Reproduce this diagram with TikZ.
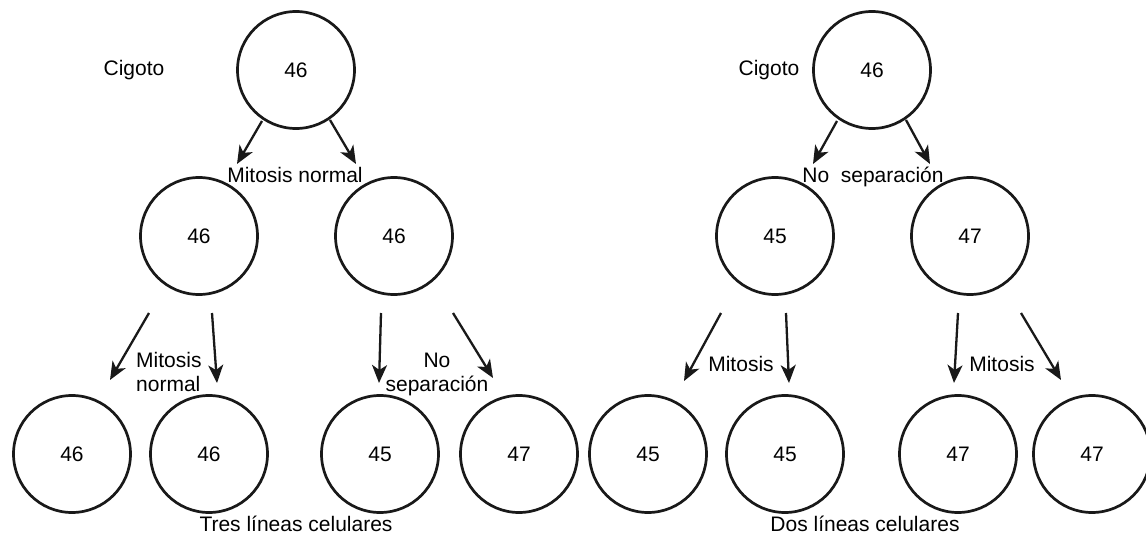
\documentclass[tikz,border=0pt]{standalone}
\usepackage{fontspec}
\setmainfont{Liberation Sans}
\usetikzlibrary{arrows.meta}
\begin{document}
\begin{tikzpicture}[x=1pt,y=-1pt,
  cell/.style={draw=black!90,line width=2.7pt,circle,minimum size=117pt,inner sep=0pt,font=\fontsize{21}{24}\selectfont},
  lbl/.style={inner sep=0pt,font=\fontsize{21}{24}\selectfont},
  arr/.style={line width=2.3pt,draw=black!90,-{Stealth[length=18pt,width=15pt,inset=5pt]}}]
\useasboundingbox (0,0) rectangle (1146,536);
% left tree
\node[cell] (L0) at (296,70) {46};
\node[cell] (L1) at (199,236) {46};
\node[cell] (L2) at (394,236) {46};
\node[cell] (L3) at (72,454) {46};
\node[cell] (L4) at (209,454) {46};
\node[cell] (L5) at (380,454) {45};
\node[cell] (L6) at (519,454) {47};
% right tree
\node[cell] (R0) at (872,70) {46};
\node[cell] (R1) at (775,236) {45};
\node[cell] (R2) at (970,236) {47};
\node[cell] (R3) at (648,454) {45};
\node[cell] (R4) at (785,454) {45};
\node[cell] (R5) at (958,454) {47};
\node[cell] (R6) at (1092,454) {47};
% arrow coordinates
\coordinate (a1s) at (262,121); \coordinate (a1e) at (237,164);
\coordinate (a2s) at (330,120); \coordinate (a2e) at (356,164);
\coordinate (b1s) at (149,313); \coordinate (b1e) at (110,380);
\coordinate (b2s) at (212,313); \coordinate (b2e) at (217,383);
\coordinate (b3s) at (381,313); \coordinate (b3e) at (379,383);
\coordinate (b4s) at (453,313); \coordinate (b4e) at (493,378);
\coordinate (c1s) at (837,121); \coordinate (c1e) at (813,164);
\coordinate (c2s) at (906,120); \coordinate (c2e) at (930,164);
\coordinate (d1s) at (721,313); \coordinate (d1e) at (684,381);
\coordinate (d2s) at (786,313); \coordinate (d2e) at (789,383);
\coordinate (d3s) at (958,313); \coordinate (d3e) at (954,383);
\coordinate (d4s) at (1021,313); \coordinate (d4e) at (1061,380);
\foreach \p in {a1,a2,b1,b2,b3,b4,c1,c2,d1,d2,d3,d4}
  \draw[arr] (\p s) -- (\p e);
% labels
\node[lbl,anchor=base] (cigL) at (134,75) {Cigoto};
\node[lbl,anchor=base] (cigR) at (769,75) {Cigoto};
\node[lbl,anchor=base] (mn) at (295,182) {Mitosis normal};
\node[lbl,anchor=base] (ns) at (873,182) {No\ \ separación};
\node[lbl,anchor=base west] (mn2a) at (136,367) {Mitosis};
\node[lbl,anchor=base west] (mn2b) at (136,391) {normal};
\node[lbl,anchor=base] (ns2a) at (437,367) {No};
\node[lbl,anchor=base] (ns2b) at (437,391) {separación};
\node[lbl,anchor=base] (m1) at (741,371) {Mitosis};
\node[lbl,anchor=base] (m2) at (1002,371) {Mitosis};
\node[lbl,anchor=base] (tres) at (296,531) {Tres líneas celulares};
\node[lbl,anchor=base] (dos) at (865,531) {Dos líneas celulares};
\end{tikzpicture}
\end{document}
